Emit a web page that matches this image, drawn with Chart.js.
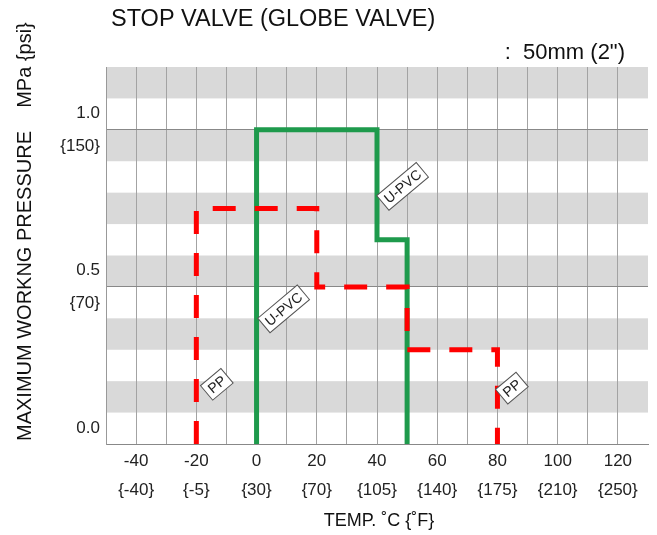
<!DOCTYPE html>
<html>
<head>
<meta charset="utf-8">
<script src="https://cdn.jsdelivr.net/npm/chart.js@4.4.0/dist/chart.umd.min.js"></script>
<style>
  html, body { margin: 0; padding: 0; background: #fff; }
  #wrap { width: 657px; height: 535px; }
</style>
</head>
<body>
<div id="wrap"><canvas id="chart" width="657" height="535"></canvas></div>
<script>
// U-PVC rating curve (temp C, pressure MPa)
var upvcTemp = [0, 0, 40, 40, 50, 50];
var upvcPressure = [0, 1.0, 1.0, 0.65, 0.65, 0];

// PP rating curve
var ppTemp = [-20, -20, 20, 20, 50, 50, 80, 80];
var ppPressure = [0, 0.75, 0.75, 0.5, 0.5, 0.3, 0.3, 0];

// axis ticks
var tempTicksC = [-40, -20, 0, 20, 40, 60, 80, 100, 120];
var tempTicksF = ["{-40}", "{-5}", "{30}", "{70}", "{105}", "{140}", "{175}", "{210}", "{250}"];
var pressTicks = [0, 0.5, 1.0];
var pressTicksMPa = ["0.0", "0.5", "1.0"];
var pressTicksPsi = ["", "{70}", "{150}"];

// curve labels
var curveLabels = [
    { text: "U-PVC", x: 9, y: 0.43 },
    { text: "U-PVC", x: 48.5, y: 0.82 },
    { text: "PP", x: -13.2, y: 0.19 },
    { text: "PP", x: 84.8, y: 0.178 }
];

var FONT = "'Liberation Sans', Arial, sans-serif";

function toPoints(xs, ys) {
    return xs.map(function (x, i) { return { x: x, y: ys[i] }; });
}

// striped background, drawn below the grid
var bandsPlugin = {
    id: "bands",
    beforeDraw: function (chart) {
        var ctx = chart.ctx, a = chart.chartArea, y = chart.scales.y;
        ctx.save();
        ctx.fillStyle = "#d9d9d9";
        for (var v = 0.1; v < 1.2; v += 0.2) {
            var top = y.getPixelForValue(v + 0.1);
            var bot = y.getPixelForValue(v);
            ctx.fillRect(a.left, top, a.right - a.left, bot - top);
        }
        ctx.restore();
    }
};

// titles and curve labels
var textPlugin = {
    id: "texts",
    afterDatasetsDraw: function (chart) {
        var ctx = chart.ctx, xs = chart.scales.x, ys = chart.scales.y;
        ctx.save();
        curveLabels.forEach(function (l) {
            var px = xs.getPixelForValue(l.x), py = ys.getPixelForValue(l.y);
            ctx.save();
            ctx.translate(px, py);
            ctx.rotate(-40 * Math.PI / 180);
            ctx.font = "14px " + FONT;
            var w = ctx.measureText(l.text).width + 8, h = 19;
            ctx.fillStyle = "#fff";
            ctx.fillRect(-w / 2, -h / 2, w, h);
            ctx.strokeStyle = "#555";
            ctx.lineWidth = 1;
            ctx.strokeRect(-w / 2, -h / 2, w, h);
            ctx.fillStyle = "#222";
            ctx.textAlign = "center";
            ctx.textBaseline = "middle";
            ctx.fillText(l.text, 0, 1);
            ctx.restore();
        });
        ctx.restore();
    },
    afterDraw: function (chart) {
        var ctx = chart.ctx;
        ctx.save();
        ctx.fillStyle = "#111";
        ctx.textBaseline = "middle";
        ctx.font = "23.5px " + FONT;
        ctx.textAlign = "left";
        ctx.fillText("STOP VALVE (GLOBE VALVE)", 111, 20);
        ctx.font = "22px " + FONT;
        ctx.textAlign = "right";
        ctx.fillText(":  50mm (2\")", 625, 53);
        ctx.font = "18px " + FONT;
        ctx.textAlign = "center";
        ctx.fillText("TEMP. \u02DAC {\u02DAF}", 379, 521);
        ctx.translate(25, 0);
        ctx.rotate(-Math.PI / 2);
        ctx.font = "20px " + FONT;
        ctx.fillText("MAXIMUM WORKNG PRESSURE", -286, 0);
        ctx.fillText("MPa {psi}", -65, 0);
        ctx.restore();
    }
};

var chart = new Chart(document.getElementById("chart").getContext("2d"), {
    type: "scatter",
    data: {
        datasets: [{
            label: "PP",
            data: toPoints(ppTemp, ppPressure),
            showLine: true,
            borderColor: "#ff0000",
            borderWidth: 5,
            borderDash: [23, 19],
            pointRadius: 0,
            order: 0
        }, {
            label: "U-PVC",
            data: toPoints(upvcTemp, upvcPressure),
            showLine: true,
            borderColor: "#1e9a4c",
            borderWidth: 5,
            pointRadius: 0,
            order: 1
        }]
    },
    options: {
        responsive: false,
        animation: false,
        layout: { padding: { top: 67, right: 9, left: 0, bottom: 0 } },
        plugins: {
            legend: { display: false },
            tooltip: { enabled: false }
        },
        scales: {
            x: {
                type: "linear",
                min: -50,
                max: 130,
                afterFit: function (s) { s.height = 91; },
                afterBuildTicks: function (s) {
                    var t = [];
                    for (var v = -50; v <= 130; v += 10) t.push({ value: v });
                    s.ticks = t;
                },
                grid: {
                    drawTicks: false,
                    color: function (c) { return c.tick && c.tick.value === 130 ? "rgba(0,0,0,0)" : "#a3a3a3"; },
                    lineWidth: 1
                },
                border: { display: true, color: "#888", width: 1 },
                ticks: {
                    autoSkip: false,
                    maxRotation: 0,
                    padding: 3,
                    color: "#222",
                    font: { family: FONT, size: 17, lineHeight: 1.7 },
                    callback: function (v) {
                        var i = tempTicksC.indexOf(v);
                        return i < 0 ? "" : [String(tempTicksC[i]), tempTicksF[i]];
                    }
                }
            },
            y: {
                type: "linear",
                min: 0,
                max: 1.2,
                afterFit: function (s) { s.width = 106; },
                afterBuildTicks: function (s) {
                    s.ticks = pressTicks.map(function (v) { return { value: v }; });
                },
                grid: { drawTicks: false, color: "#888", lineWidth: 1 },
                border: { display: true, color: "#999", width: 1 },
                ticks: {
                    padding: 6,
                    color: "#222",
                    font: { family: FONT, size: 17, lineHeight: 1.9 },
                    callback: function (v) {
                        var i = pressTicks.indexOf(v);
                        return i < 0 ? "" : [pressTicksMPa[i], pressTicksPsi[i]];
                    }
                }
            }
        }
    },
    plugins: [bandsPlugin, textPlugin]
});
</script>
</body>
</html>
